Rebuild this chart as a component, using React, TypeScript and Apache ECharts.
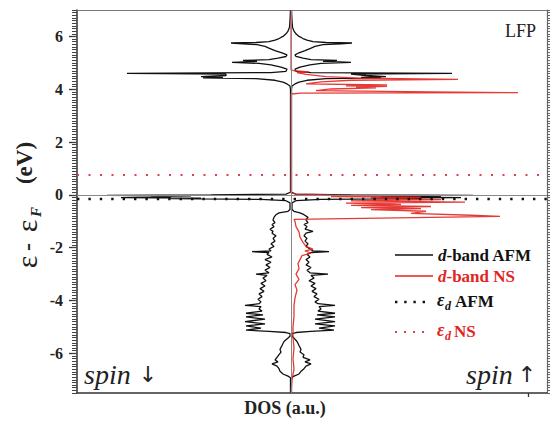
import { useEffect, useRef } from "react";
import * as echarts from "echarts";

// Energy grid (eV, relative to E_F) for the AFM d-band DOS
const afmEnergy = [
  7.0, 6.6, 6.35, 6.2, 6.1, 6.0, 5.92, 5.86, 5.8, 5.77, 5.75, 5.72, 5.69, 5.62, 5.54, 5.46, 5.38, 5.3, 5.24,
  5.18, 5.12, 5.09, 5.06, 5.02, 4.98, 4.92, 4.84, 4.76, 4.68, 4.63, 4.6, 4.57, 4.52, 4.48, 4.45, 4.43, 4.4,
  4.34, 4.27, 4.2, 4.12, 4.0, 0.1, 0.03, 0.0, -0.02, -0.04, -0.06, -0.08, -0.1, -0.12, -0.14, -0.17, -0.22,
  -0.3, -0.55, -0.62, -0.68, -0.75, -0.85, -0.95, -1.05, -1.12, -1.2, -1.3, -1.38, -1.45, -1.55, -1.65,
  -1.75, -1.85, -1.95, -2.05, -2.12, -2.15, -2.18, -2.25, -2.35, -2.45, -2.55, -2.65, -2.75, -2.85, -2.95,
  -3.0, -3.05, -3.15, -3.25, -3.35, -3.45, -3.55, -3.65, -3.75, -3.85, -3.95, -4.05, -4.12, -4.18, -4.23,
  -4.32, -4.4, -4.48, -4.54, -4.62, -4.7, -4.8, -4.88, -4.96, -5.04, -5.12, -5.17, -5.21, -5.25, -5.35,
  -5.42, -5.55, -5.7, -5.85, -5.95, -6.05, -6.15, -6.25, -6.32, -6.4, -6.48, -6.58, -6.68, -6.78, -6.86,
  -6.92, -7.5,
];
// spin up (right side), DOS in a.u.
const afmSpinUp = [
  0.05, 0.1, 0.15, 0.3, 0.5, 0.8, 1.2, 1.6, 2.2, 3.5, 6.1, 5.0, 3.2, 2.4, 1.9, 1.4, 0.8, 0.4, 0.5,
  1.2, 2.0, 4.6, 3.2, 6.0, 3.0, 1.9, 0.9, 0.4, 0.5, 2.0, 16.1, 6.0, 7.5, 9.5, 7.0, 9.0, 3.5,
  1.6, 0.8, 0.4, 0.1, 0.05, 0.05, 0.5, 6, 18.2, 8, 15, 9, 17, 8, 13, 3, 0.5,
  0.1, 0.1, 0.3, 0.9, 1.3, 1.7, 1.5, 1.7, 1.3, 1.6, 1.4, 2.2, 1.5, 1.3, 1.6,
  1.4, 1.7, 1.5, 1.9, 2.2, 3.8, 2.0, 1.6, 1.9, 1.5, 1.8, 1.5, 2.0, 1.6, 1.9,
  3.7, 2.0, 2.3, 1.8, 2.4, 2.0, 2.5, 2.1, 2.6, 2.3, 2.8, 2.4, 2.7, 4.4, 2.8,
  3.0, 2.7, 4.4, 2.6, 4.4, 2.4, 4.4, 2.4, 4.4, 2.8, 4.3, 2.0, 0.5, 0.1, 0.1,
  0.3, 0.6, 0.8, 1.0, 0.9, 1.3, 1.2, 1.9, 1.4, 2.0, 1.5, 1.3, 1.0, 0.8, 0.3,
  0.05, 0.05,
];
// spin down (left side), DOS in a.u.
const afmSpinDown = [
  -0.05, -0.1, -0.15, -0.3, -0.5, -0.8, -1.2, -1.6, -2.2, -3.5, -6.0, -4.8, -3.4, -2.6, -2.1, -1.6, -0.9, -0.4, -0.5,
  -1.3, -2.2, -4.8, -3.4, -5.9, -3.2, -2.0, -1.0, -0.4, -0.5, -2.0, -16.4, -6.5, -6.5, -9.0, -6.8, -8.8, -3.5,
  -1.6, -0.8, -0.4, -0.1, -0.05, -0.05, -0.5, -8, -18.4, -10, -14, -12, -17, -9, -12, -3, -0.5,
  -0.1, -0.1, -0.3, -1.2, -1.5, -1.7, -1.8, -1.6, -1.9, -1.7, -2.1, -1.8, -1.9, -1.5, -1.8,
  -1.6, -2.0, -1.7, -2.2, -2.0, -3.9, -2.2, -2.4, -1.9, -2.6, -2.0, -2.5, -2.1, -2.6, -2.2,
  -3.5, -2.4, -2.8, -2.5, -3.0, -2.6, -3.1, -2.7, -3.2, -2.9, -3.3, -3.0, -3.2, -4.6, -3.0,
  -3.2, -2.9, -4.5, -2.8, -4.5, -2.6, -4.6, -2.6, -4.5, -3.0, -4.5, -2.2, -0.5, -0.1, -0.1,
  -0.3, -0.7, -0.9, -1.1, -1.0, -1.2, -1.4, -1.6, -1.3, -1.9, -1.4, -1.2, -1.1, -0.8, -0.3,
  -0.05, -0.05,
];

// Non-spin-polarised d-band DOS
const nsEnergy = [
  7.0, 4.74, 4.7, 4.66, 4.63, 4.56, 4.48, 4.42, 4.37, 4.34, 4.28, 4.2, 4.16, 4.13, 4.11, 4.08, 4.05, 4.01,
  3.95, 3.9, 3.87, 3.85, 3.82, 0.08, 0.03, 0.0, -0.03, -0.06, -0.09, -0.13, -0.18, -0.23, -0.27, -0.31,
  -0.36, -0.4, -0.44, -0.48, -0.52, -0.56, -0.62, -0.7, -0.77, -0.81, -0.93, -1.0, -1.2, -1.4, -1.6, -1.8,
  -1.95, -2.05, -2.12, -2.2, -2.3, -2.45, -2.6, -2.8, -3.0, -3.2, -3.4, -3.6, -3.9, -4.2, -4.6, -5.0, -5.4,
  -5.8, -6.2, -6.6, -7.0, -7.5,
];
const nsDos = [
  0, 0, 0.3, 1.8, 0.6, 1.5, 3.5, 7.0, 16.7, 6.0, 3.0, 1.5, 9.6, 5.5, 9.6, 6.5, 8.5, 4.0,
  2.5, 14.0, 22.7, 1.0, 0, 0, 0.5, 4.0, 9.0, 4.0, 13.0, 8.0, 15.0, 6.0, 17.4, 5.5,
  11.0, 6.0, 14.0, 7.0, 13.0, 8.0, 13.5, 12.0, 18.0, 20.9, 0.3, 0.4, 0.5, 0.8, 0.9, 1.2,
  1.5, 2.2, 1.4, 2.0, 1.1, 0.9, 0.7, 0.8, 0.5, 0.8, 0.4, 0.6, 0.4, 0.3, 0.3, 0.2, 0.2,
  0.3, 0.2, 0.3, 0.1, 0,
];

// d-band centres
const epsDAfm = -0.13;
const epsDNs = 0.78;

const yTickValues = [-6, -4, -2, 0, 2, 4, 6];
const xTickValues = [23.7];

const SERIF = "'Liberation Serif', 'DejaVu Serif', serif";
const BLACK = "#111";
const RED = "#e2251f";

export default function App() {
  const ref = useRef<HTMLDivElement>(null);

  useEffect(() => {
    const chart = echarts.init(ref.current!, null, { renderer: "svg" });
    const toPairs = (xs: number[], es: number[]) => es.map((e, i) => [xs[i], e]);

    const rot = Math.PI / 2;
    const option: any = {
      animation: false,
      backgroundColor: "#fff",
      grid: { left: 77, right: 3, top: 10, bottom: 35 },
      xAxis: [
        {
          type: "value",
          min: -21.4,
          max: 25.6,
          position: "bottom",
          axisLine: { show: true, onZero: false, lineStyle: { color: "#333", width: 1.5 } },
          axisTick: { show: true, customValues: xTickValues, length: 4, lineStyle: { color: "#333", width: 1.3 } },
          axisLabel: { show: false },
          splitLine: { show: false },
        },
        {
          type: "value",
          min: -21.4,
          max: 25.6,
          position: "top",
          axisLine: { show: true, onZero: false, lineStyle: { color: "#777", width: 1.2 } },
          axisTick: { show: false },
          axisLabel: { show: false },
          splitLine: { show: false },
        },
      ],
      yAxis: [
        {
          type: "value",
          min: -7.5,
          max: 7,
          position: "left",
          axisLine: { show: true, onZero: false, lineStyle: { color: "#333", width: 1.5 } },
          axisTick: { show: true, customValues: yTickValues, length: 8, lineStyle: { color: "#333", width: 1.3 } },
          axisLabel: {
            customValues: yTickValues,
            fontSize: 16,
            fontWeight: "bold",
            fontFamily: SERIF,
            color: "#222",
            margin: 14,
          },
          splitLine: { show: false },
        },
        {
          type: "value",
          min: -7.5,
          max: 7,
          interval: 0.1,
          position: "left",
          axisLine: { show: false, onZero: false },
          axisTick: { show: true, length: 5, lineStyle: { color: "#444", width: 1 } },
          axisLabel: { show: false },
          splitLine: { show: false },
        },
        {
          type: "value",
          min: -7.5,
          max: 7,
          interval: 0.1,
          position: "right",
          axisLine: { show: true, onZero: false, lineStyle: { color: "#666", width: 1.2 } },
          axisTick: { show: true, length: 5, lineStyle: { color: "#666", width: 1 } },
          axisLabel: { show: false },
          splitLine: { show: false },
        },
      ],
      series: [
        {
          name: "d-band AFM spin down",
          type: "line",
          data: toPairs(afmSpinDown, afmEnergy),
          showSymbol: false,
          symbol: "none",
          lineStyle: { color: BLACK, width: 1.3 },
          z: 3,
          markLine: {
            silent: true,
            symbol: ["none", "none"],
            label: { show: false },
            data: [
              { xAxis: 0, lineStyle: { color: "#888", width: 1, type: "solid" } },
              { yAxis: 0, lineStyle: { color: "#888", width: 1, type: "solid" } },
              { yAxis: epsDAfm, lineStyle: { color: "#111", width: 2.4, type: [2.4, 9] } },
              { yAxis: epsDNs, lineStyle: { color: "#e0404a", width: 2, type: [2, 9.5] } },
            ],
          },
        },
        {
          name: "d-band AFM spin up",
          type: "line",
          data: toPairs(afmSpinUp, afmEnergy),
          showSymbol: false,
          symbol: "none",
          lineStyle: { color: BLACK, width: 1.3 },
          z: 3,
        },
        {
          name: "d-band NS",
          type: "line",
          data: toPairs(nsDos, nsEnergy),
          showSymbol: false,
          symbol: "none",
          lineStyle: { color: RED, width: 1.3, opacity: 0.9 },
          z: 4,
        },
      ],
      graphic: [
        // y-axis title: ε - ε_F (eV)
        { type: "text", x: 26, y: 262, rotation: rot, style: { text: "ε", fontSize: 30, fontFamily: SERIF, fill: "#222", align: "center", verticalAlign: "middle" } },
        { type: "text", x: 27, y: 247, rotation: rot, style: { text: "-", fontSize: 24, fontWeight: "bold", fontFamily: SERIF, fill: "#222", align: "center", verticalAlign: "middle" } },
        { type: "text", x: 26, y: 226, rotation: rot, style: { text: "ε", fontSize: 30, fontFamily: SERIF, fill: "#222", align: "center", verticalAlign: "middle" } },
        { type: "text", x: 36, y: 212, rotation: rot, style: { text: "F", fontSize: 15, fontStyle: "italic", fontWeight: "bold", fontFamily: SERIF, fill: "#222", align: "center", verticalAlign: "middle" } },
        { type: "text", x: 24, y: 163, rotation: rot, style: { text: "(eV)", fontSize: 23, fontWeight: "bold", fontFamily: SERIF, fill: "#222", align: "center", verticalAlign: "middle" } },
        // x-axis title
        { type: "text", x: 285, y: 408, style: { text: "DOS (a.u.)", fontSize: 18, fontWeight: "bold", fontFamily: SERIF, fill: "#222", align: "center", verticalAlign: "middle" } },
        // LFP
        { type: "text", x: 505, y: 31, style: { text: "LFP", fontSize: 18, fontFamily: SERIF, fill: "#222", align: "left", verticalAlign: "middle" } },
        // spin labels
        { type: "text", x: 84, y: 374, style: { text: "spin", fontSize: 28, fontStyle: "italic", fontFamily: SERIF, fill: "#222", align: "left", verticalAlign: "middle" } },
        { type: "text", x: 148, y: 374, style: { text: "↓", fontSize: 22, fontFamily: "'DejaVu Sans', sans-serif", fill: "#222", align: "center", verticalAlign: "middle" } },
        { type: "text", x: 466, y: 374, style: { text: "spin", fontSize: 28, fontStyle: "italic", fontFamily: SERIF, fill: "#222", align: "left", verticalAlign: "middle" } },
        { type: "text", x: 527, y: 374, style: { text: "↑", fontSize: 22, fontFamily: "'DejaVu Sans', sans-serif", fill: "#222", align: "center", verticalAlign: "middle" } },
        // legend
        { type: "line", shape: { x1: 395, y1: 255, x2: 433, y2: 255 }, style: { stroke: BLACK, lineWidth: 1.5 } },
        { type: "text", x: 438, y: 255, style: { text: "{i|d}-band AFM", rich: { i: { fontStyle: "italic", fontWeight: "bold", fontSize: 17, fontFamily: SERIF, fill: "#111" } }, fontSize: 17, fontWeight: "bold", fontFamily: SERIF, fill: "#111", verticalAlign: "middle" } },
        { type: "line", shape: { x1: 395, y1: 276, x2: 433, y2: 276 }, style: { stroke: RED, lineWidth: 1.5 } },
        { type: "text", x: 438, y: 276, style: { text: "{i|d}-band NS", rich: { i: { fontStyle: "italic", fontWeight: "bold", fontSize: 17, fontFamily: SERIF, fill: RED } }, fontSize: 17, fontWeight: "bold", fontFamily: SERIF, fill: RED, verticalAlign: "middle" } },
        { type: "line", shape: { x1: 395, y1: 302, x2: 425, y2: 302 }, style: { stroke: "#111", lineWidth: 2.4, lineDash: [2.4, 6.8] } },
        { type: "text", x: 437, y: 300, style: { text: "ε", fontSize: 18, fontStyle: "italic", fontWeight: "bold", fontFamily: SERIF, fill: "#111", verticalAlign: "middle" } },
        { type: "text", x: 445, y: 306, style: { text: "d", fontSize: 12, fontStyle: "italic", fontWeight: "bold", fontFamily: SERIF, fill: "#111", verticalAlign: "middle" } },
        { type: "text", x: 455, y: 301, style: { text: "AFM", fontSize: 17, fontWeight: "bold", fontFamily: SERIF, fill: "#111", verticalAlign: "middle" } },
        { type: "line", shape: { x1: 395, y1: 332, x2: 425, y2: 332 }, style: { stroke: "#e0404a", lineWidth: 2, lineDash: [2, 7] } },
        { type: "text", x: 437, y: 330, style: { text: "ε", fontSize: 18, fontStyle: "italic", fontWeight: "bold", fontFamily: SERIF, fill: RED, verticalAlign: "middle" } },
        { type: "text", x: 445, y: 336, style: { text: "d", fontSize: 12, fontStyle: "italic", fontWeight: "bold", fontFamily: SERIF, fill: RED, verticalAlign: "middle" } },
        { type: "text", x: 454, y: 331, style: { text: "NS", fontSize: 17, fontWeight: "bold", fontFamily: SERIF, fill: RED, verticalAlign: "middle" } },
      ],
    };

    chart.setOption(option);
    return () => chart.dispose();
  }, []);

  return <div ref={ref} style={{ position: "fixed", left: 0, top: 0, width: 550, height: 428 }} />;
}
